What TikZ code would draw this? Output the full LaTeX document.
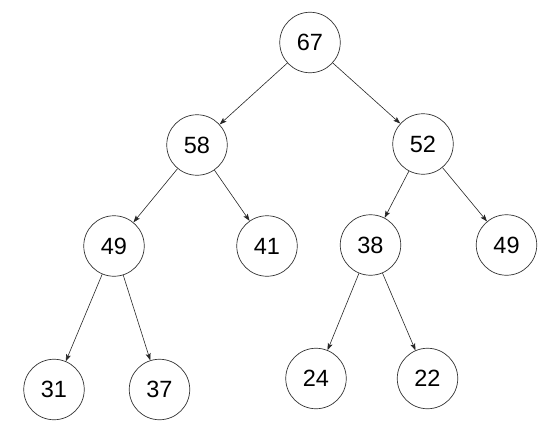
\documentclass[tikz,border=0pt]{standalone}
\usepackage{fontspec}
\setmainfont{Liberation Sans}
\usetikzlibrary{arrows.meta}
\tikzset{
  heapnode/.style={circle, draw=black!80, line width=0.7pt, minimum size=60.5pt, inner sep=0pt, font=\fontsize{23.5}{28}\selectfont},
  heapedge/.style={-{Stealth[length=7pt,width=5pt,inset=1.5pt]}, draw=black!85, line width=0.6pt}
}
\begin{document}
\begin{tikzpicture}[x=1pt,y=-1pt,auto]
  \useasboundingbox (0,0) rectangle (560,444);
  \node[heapnode] (n67) at (310, 42.5) {67};
  \node[heapnode] (n58) at (197, 145) {58}; \node[heapnode] (n52) at (423, 144) {52};
  \node[heapnode] (n49a) at (114, 246) {49}; \node[heapnode] (n41) at (267, 246) {41};
  \node[heapnode] (n38) at (370.5, 245) {38}; \node[heapnode] (n49b) at (506.5, 245) {49};
  \node[heapnode] (n31) at (54, 389.5) {31}; \node[heapnode] (n37) at (159.5, 389.5) {37};
  \node[heapnode] (n24) at (316, 378.5) {24}; \node[heapnode] (n22) at (427.5, 378.5) {22};
  \draw[heapedge] (n67) to (n58); \draw[heapedge] (n67) to (n52);
  \draw[heapedge] (n58) to (n49a); \draw[heapedge] (n58) to (n41);
  \draw[heapedge] (n52) to (n38); \draw[heapedge] (n52) to (n49b);
  \draw[heapedge] (n49a) to (n31); \draw[heapedge] (n49a) to (n37);
  \draw[heapedge] (n38) to (n24); \draw[heapedge] (n38) to (n22);
\end{tikzpicture}
\end{document}
